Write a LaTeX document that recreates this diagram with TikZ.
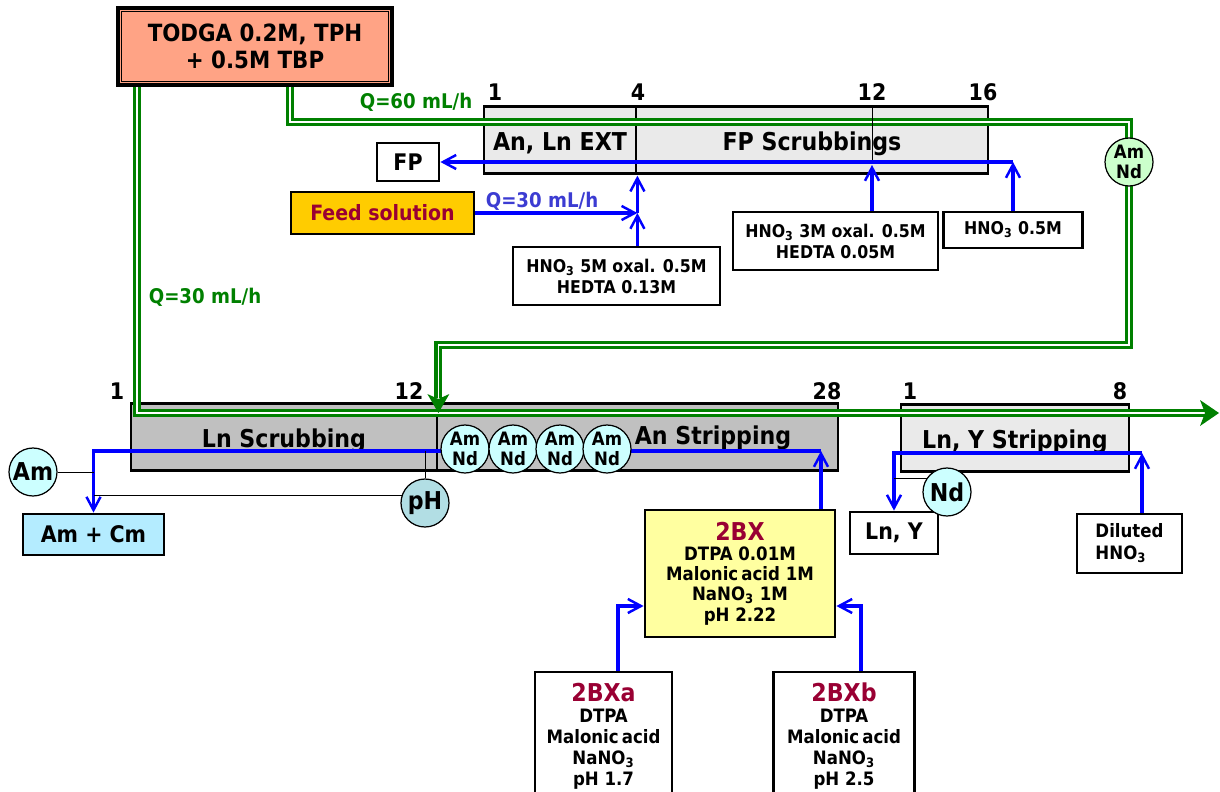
\documentclass[tikz,border=0pt]{standalone}
\usepackage{fontspec}
\setmainfont{DejaVu Sans Condensed}
\usetikzlibrary{arrows.meta}
\usetikzlibrary{calc}

\definecolor{salmonfill}{RGB}{255,163,133}
\definecolor{flowgreen}{RGB}{0,128,0}
\definecolor{flowblue}{RGB}{0,0,255}
\definecolor{qblue}{RGB}{60,60,210}
\definecolor{darkred}{RGB}{153,0,51}
\definecolor{feedgold}{RGB}{255,204,0}
\definecolor{stagelight}{RGB}{234,234,234}
\definecolor{stagedark}{RGB}{192,192,192}
\definecolor{ionfill}{RGB}{204,255,255}
\definecolor{ionfillgreen}{RGB}{204,255,204}
\definecolor{phfill}{RGB}{178,222,228}
\definecolor{amcmfill}{RGB}{180,236,255}
\definecolor{bxfill}{RGB}{255,255,160}

\tikzset{
    stage/.style={rectangle, draw=black, line width=1.6pt, inner sep=0pt, minimum height=1.33cm, text height=14.9pt, text depth=3.5pt, font=\bfseries\fontsize{14}{16}\selectfont},
    sol/.style={rectangle, draw=black, line width=1.6pt, fill=white, align=center, inner sep=0pt, font=\bfseries\fontsize{10}{12}\selectfont},
    ion/.style={circle, draw=black, line width=0.7pt, fill=ionfill, minimum size=0.96cm, inner sep=0pt, align=center, font=\bfseries\fontsize{10.5}{11.5}\selectfont},
    bigion/.style={ion, font=\bfseries\fontsize{14}{16}\selectfont},
    stagenum/.style={inner sep=0pt, font=\bfseries\fontsize{13}{15}\selectfont},
    flowlabel/.style={inner sep=0pt, font=\bfseries\fontsize{11.5}{14}\selectfont},
    organic/.style={draw=flowgreen, line width=1.8pt, double=white, double distance=0.9pt},
    aqueous/.style={draw=flowblue, line width=2pt, -{Straight Barb[length=7.5pt, width=8pt, line width=1.4pt]}},
    marker/.style={draw=black, line width=0.5pt},
}

\begin{document}
\begin{tikzpicture}[x=0.02cm, y=-0.02cm]
    \useasboundingbox (0,0) rectangle (1220,791);
    \clip (0,0) rectangle (1220,791);

    % solvent
    \node [rectangle, draw=black, line width=2pt, fill=salmonfill, minimum width=5.48cm, minimum height=1.54cm, align=center, font=\bfseries\fontsize{13.5}{15}\selectfont] (todga) at (255,46.5) {TODGA 0.2M, TPH\\+ 0.5M TBP};
    \draw [line width=0.7pt] ($(todga.north west)+(5,5)$) rectangle ($(todga.south east)+(-5,-5)$);

    % first cycle
    \node [stage, fill=stagelight, minimum width=3.04cm] (ext) at (560,140) {An, Ln EXT};
    \node [stage, fill=stagelight, minimum width=7.04cm] (fpscrub) at (812,140) {FP Scrubbings};

    % second cycle
    \node [stage, fill=stagedark, minimum width=6.12cm] (lnscrub) at (284,437) {Ln Scrubbing};
    \node [stage, fill=stagedark, minimum width=8.02cm] (anstrip) at (637.5,437) {};
    \node [stagenum, font=\bfseries\fontsize{14}{16}\selectfont] (anstriplabel) at (713,438) {An Stripping};
    \node [stage, fill=stagelight, minimum width=4.56cm] (lnystrip) at (1015,438) {Ln, Y Stripping};

    \foreach \px/\py/\n [count=\i] in {495/92/1, 638/92/4, 872/92/12, 983/92/16, 117/391/1, 409/391/12, 827/391/28, 910/391/1, 1120/391/8}
        \node [stagenum] (num\i) at (\px,\py) {\n};

    % feeds and products
    \node [sol, minimum width=1.24cm, minimum height=0.76cm, font=\bfseries\fontsize{13}{15}\selectfont] (fp) at (408,162) {FP};
    \node [sol, fill=feedgold, text=darkred, minimum width=3.66cm, minimum height=0.84cm, font=\bfseries\fontsize{12}{14}\selectfont] (feed) at (382.5,213) {Feed solution};
    \node [sol, minimum width=4.14cm, minimum height=1.16cm] (hnofive) at (616.5,276) {HNO\textsubscript{3} 5M oxal. 0.5M\\HEDTA 0.13M};
    \node [sol, minimum width=4.1cm, minimum height=1.16cm] (hnothree) at (835.5,241) {HNO\textsubscript{3} 3M oxal. 0.5M\\HEDTA 0.05M};
    \node [sol, minimum width=2.78cm, minimum height=0.72cm] (hnohalf) at (1013,230) {HNO\textsubscript{3} 0.5M};

    \node [sol, fill=amcmfill, minimum width=2.82cm, minimum height=0.82cm, font=\bfseries\fontsize{13}{15}\selectfont] (amcm) at (93.5,534.5) {Am + Cm};
    \node [sol, minimum width=1.76cm, minimum height=0.84cm, font=\bfseries\fontsize{13}{15}\selectfont] (lny) at (894,533) {Ln, Y};
    \node [sol, minimum width=2.1cm, minimum height=1.18cm, align=left, font=\bfseries\fontsize{10.5}{12.5}\selectfont] (diluted) at (1129.5,543.5) {Diluted\\HNO\textsubscript{3}};

    \node [sol, fill=bxfill, minimum width=3.8cm, minimum height=2.54cm, font=\bfseries\fontsize{10.5}{11.5}\selectfont] (bx) at (740,573.5) {{\color{darkred}\fontsize{14}{17}\selectfont 2BX}\\DTPA 0.01M\\Malonic\,acid 1M\\NaNO\textsubscript{3} 1M\\pH 2.22};
    \node [sol, minimum width=2.74cm, minimum height=2.56cm, font=\bfseries\fontsize{10.5}{12}\selectfont] (bxa) at (603.5,736) {{\color{darkred}\fontsize{14}{17}\selectfont 2BXa}\\DTPA\\Malonic\,acid\\NaNO\textsubscript{3}\\pH 1.7};
    \node [sol, minimum width=2.82cm, minimum height=2.56cm, font=\bfseries\fontsize{10.5}{12}\selectfont] (bxb) at (844,736) {{\color{darkred}\fontsize{14}{17}\selectfont 2BXb}\\DTPA\\Malonic\,acid\\NaNO\textsubscript{3}\\pH 2.5};

    % turning points
    \coordinate (orgin) at (137,413);
    \coordinate (orgout) at (1219,413);
    \coordinate (orgturn) at (290,122);
    \coordinate (orgback) at (1129,345);
    \coordinate (scrubin) at (872,162);
    \coordinate (stripout) at (821,451);
    \coordinate (lnyout) at (1142,453);
    \coordinate (bxain) at (618,606);
    \coordinate (bxbin) at (861,606);

    % organic flow
    \draw [organic] (orgin |- todga.south) -- (orgin) -- ($(orgout)+(-14,0)$);
    \draw [organic] (orgturn |- todga.south) -- (orgturn) -- (orgturn -| orgback) -- (orgback) -- (orgback -| lnscrub.east) -- ($(lnscrub.north east)+(0,-4)$);
    \fill [flowgreen] (orgout) -- ++(-19,-13) -- ++(5,13) -- ++(-5,13) -- cycle;
    \fill [flowgreen] (lnscrub.east |- orgin) -- ++(-11,-19) -- ++(11,5) -- ++(11,-5) -- cycle;
    \node [flowlabel, text=flowgreen] (qsolvent) at (416,102) {Q=60 mL/h};
    \node [flowlabel, text=flowgreen] (qscrub) at (205,297) {Q=30 mL/h};

    % aqueous flow
    \draw [marker] (scrubin |- fpscrub.north) -- (scrubin);
    \draw [aqueous] (hnohalf.north) -- (hnohalf.north |- scrubin);
    \draw [aqueous] (hnohalf.north |- scrubin) -- (fp.east);
    \draw [aqueous] (scrubin |- hnothree.north) -- ($(scrubin)+(0,3)$);
    \draw [aqueous] (feed.east) -- (feed.east -| ext.south east);
    \draw [aqueous] (ext.south east |- hnofive.north) -- (ext.south east |- feed.east);
    \draw [aqueous] (ext.south east |- feed.east) -- ($(ext.south east)+(0,1)$);
    \node [flowlabel, text=qblue] (qfeed) at (542,201) {Q=30 mL/h};

    \draw [aqueous] (stripout |- bx.north) -- (stripout);
    \draw [aqueous] (stripout) -- (stripout -| amcm.north) -- (amcm.north);
    \draw [aqueous] (bxain |- bxa.north) -- (bxain) -- (bxain -| bx.west);
    \draw [aqueous] (bxbin |- bxb.north) -- (bxbin) -- (bxbin -| bx.east);
    \draw [aqueous] (lnyout |- diluted.north) -- (lnyout);
    \draw [aqueous] (lnyout) -- (lnyout -| lny.north) -- (lny.north);

    % ions
    \node [ion, fill=ionfillgreen] (amndorg) at (1129,162) {Am\\Nd};
    \foreach \px [count=\i] in {465,513,560,607}
        \node [ion] (amnd\i) at (\px,449) {Am\\Nd};
    \node [bigion] (am) at (33,472) {Am};
    \node [bigion, fill=phfill] (ph) at (425,503) {pH};
    \node [bigion] (nd) at (947,492) {Nd};

    \draw [marker] (am.east) -- (am.east -| amcm.north);
    \draw [marker] (ph.north) -- (ph.north |- stripout);
    \draw [marker] (ph.162) -- (ph.162 -| amcm.north);
    \draw [marker] (nd.146) -- (nd.146 -| lny.north);
\end{tikzpicture}
\end{document}
